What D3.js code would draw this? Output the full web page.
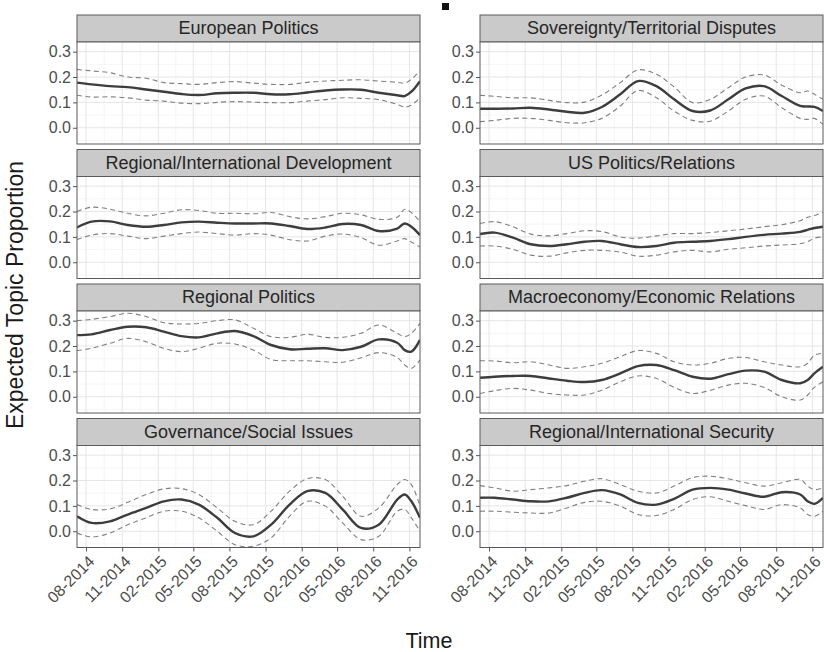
<!DOCTYPE html>
<html>
<head>
<meta charset="utf-8">
<script src="https://cdn.jsdelivr.net/npm/d3@7"></script>
<style>
  body { margin: 0; background: #fff; }
  svg { font-family: "Liberation Sans", Arial, sans-serif; }
</style>
</head>
<body>
<svg id="chart"></svg>
<script>
// sample dates shared by every topic
const dates = ["2014-07-09", "2014-08-15", "2014-10-01", "2014-11-15", "2015-01-01", "2015-02-15",
  "2015-04-01", "2015-05-15", "2015-07-01", "2015-08-15", "2015-10-01", "2015-11-15",
  "2016-01-01", "2016-02-15", "2016-04-01", "2016-05-15", "2016-07-01", "2016-08-15",
  "2016-10-01", "2016-10-20", "2016-11-06", "2016-11-28"];

const topics = ["European Politics", "Sovereignty/Territorial Disputes",
  "Regional/International Development", "US Politics/Relations",
  "Regional Politics", "Macroeconomy/Economic Relations",
  "Governance/Social Issues", "Regional/International Security"];

const europeanMean  = [0.178, 0.171, 0.164, 0.16, 0.151, 0.142, 0.133, 0.129, 0.136, 0.138, 0.138, 0.132, 0.132, 0.139, 0.147, 0.151, 0.15, 0.138, 0.128, 0.125, 0.142, 0.184];
const europeanUpper = [0.23, 0.224, 0.217, 0.2, 0.195, 0.178, 0.174, 0.171, 0.178, 0.182, 0.176, 0.171, 0.171, 0.179, 0.184, 0.187, 0.189, 0.184, 0.179, 0.176, 0.191, 0.224];
const europeanLower = [0.128, 0.121, 0.122, 0.118, 0.109, 0.105, 0.097, 0.095, 0.1, 0.103, 0.101, 0.099, 0.099, 0.105, 0.111, 0.118, 0.116, 0.111, 0.092, 0.082, 0.089, 0.118];

const sovereigntyMean  = [0.075, 0.075, 0.076, 0.079, 0.072, 0.063, 0.059, 0.082, 0.132, 0.184, 0.164, 0.112, 0.066, 0.068, 0.112, 0.155, 0.164, 0.125, 0.086, 0.084, 0.082, 0.066];
const sovereigntyUpper = [0.128, 0.124, 0.118, 0.118, 0.108, 0.099, 0.101, 0.129, 0.178, 0.228, 0.211, 0.161, 0.099, 0.112, 0.158, 0.2, 0.208, 0.168, 0.138, 0.145, 0.132, 0.112];
const sovereigntyLower = [0.024, 0.029, 0.037, 0.037, 0.029, 0.02, 0.02, 0.037, 0.086, 0.147, 0.118, 0.066, 0.029, 0.026, 0.066, 0.112, 0.125, 0.079, 0.037, 0.033, 0.037, 0.013];

const developmentMean  = [0.137, 0.16, 0.161, 0.147, 0.14, 0.147, 0.157, 0.16, 0.156, 0.153, 0.153, 0.153, 0.143, 0.131, 0.137, 0.151, 0.147, 0.123, 0.133, 0.153, 0.14, 0.107];
const developmentUpper = [0.2, 0.217, 0.209, 0.193, 0.183, 0.193, 0.207, 0.204, 0.193, 0.193, 0.191, 0.196, 0.18, 0.171, 0.18, 0.193, 0.187, 0.169, 0.177, 0.209, 0.196, 0.16];
const developmentLower = [0.089, 0.107, 0.113, 0.103, 0.093, 0.103, 0.113, 0.119, 0.113, 0.107, 0.113, 0.107, 0.089, 0.084, 0.103, 0.111, 0.097, 0.067, 0.084, 0.093, 0.08, 0.06];

const usMean  = [0.111, 0.117, 0.097, 0.071, 0.064, 0.071, 0.081, 0.084, 0.071, 0.06, 0.064, 0.077, 0.081, 0.084, 0.091, 0.1, 0.108, 0.113, 0.12, 0.128, 0.135, 0.14];
const usUpper = [0.153, 0.16, 0.14, 0.111, 0.104, 0.113, 0.124, 0.121, 0.1, 0.095, 0.104, 0.113, 0.113, 0.117, 0.124, 0.131, 0.14, 0.148, 0.164, 0.177, 0.184, 0.197];
const usLower = [0.064, 0.064, 0.051, 0.028, 0.024, 0.037, 0.047, 0.047, 0.04, 0.024, 0.028, 0.041, 0.047, 0.041, 0.051, 0.057, 0.064, 0.068, 0.073, 0.081, 0.095, 0.1];

const regionalMean  = [0.243, 0.246, 0.263, 0.276, 0.274, 0.257, 0.239, 0.234, 0.25, 0.259, 0.239, 0.204, 0.187, 0.189, 0.191, 0.184, 0.197, 0.226, 0.213, 0.184, 0.178, 0.224];
const regionalUpper = [0.3, 0.305, 0.316, 0.329, 0.316, 0.292, 0.287, 0.289, 0.3, 0.303, 0.27, 0.237, 0.234, 0.246, 0.234, 0.234, 0.25, 0.283, 0.25, 0.237, 0.25, 0.289];
const regionalLower = [0.182, 0.191, 0.211, 0.23, 0.217, 0.191, 0.178, 0.191, 0.211, 0.208, 0.184, 0.147, 0.142, 0.142, 0.138, 0.136, 0.154, 0.174, 0.155, 0.125, 0.112, 0.145];

const macroMean  = [0.075, 0.079, 0.082, 0.082, 0.072, 0.063, 0.058, 0.066, 0.092, 0.121, 0.125, 0.105, 0.079, 0.071, 0.089, 0.103, 0.099, 0.066, 0.053, 0.066, 0.092, 0.118];
const macroUpper = [0.142, 0.141, 0.134, 0.138, 0.125, 0.112, 0.118, 0.132, 0.158, 0.182, 0.171, 0.138, 0.125, 0.132, 0.151, 0.155, 0.138, 0.125, 0.118, 0.132, 0.164, 0.171];
const macroLower = [0.013, 0.024, 0.033, 0.026, 0.013, 0.007, 0.007, 0.026, 0.059, 0.082, 0.072, 0.037, 0.013, 0.026, 0.046, 0.053, 0.037, 0.0, -0.013, 0.007, 0.037, 0.059];

const governanceMean  = [0.059, 0.033, 0.039, 0.066, 0.092, 0.118, 0.125, 0.105, 0.053, -0.007, -0.02, 0.026, 0.105, 0.158, 0.151, 0.086, 0.013, 0.026, 0.125, 0.145, 0.118, 0.053];
const governanceUpper = [0.105, 0.086, 0.088, 0.114, 0.145, 0.167, 0.168, 0.145, 0.092, 0.039, 0.026, 0.079, 0.158, 0.207, 0.204, 0.138, 0.059, 0.092, 0.184, 0.204, 0.184, 0.099];
const governanceLower = [-0.007, -0.022, -0.007, 0.026, 0.053, 0.079, 0.079, 0.053, 0.0, -0.053, -0.059, -0.026, 0.059, 0.118, 0.099, 0.033, -0.033, -0.02, 0.079, 0.086, 0.053, 0.0];

const securityMean  = [0.132, 0.132, 0.125, 0.118, 0.118, 0.132, 0.151, 0.162, 0.145, 0.112, 0.105, 0.128, 0.164, 0.171, 0.164, 0.149, 0.136, 0.154, 0.145, 0.118, 0.108, 0.132];
const securityUpper = [0.18, 0.171, 0.158, 0.164, 0.171, 0.18, 0.197, 0.207, 0.184, 0.158, 0.151, 0.178, 0.211, 0.217, 0.207, 0.191, 0.178, 0.191, 0.204, 0.178, 0.164, 0.171];
const securityLower = [0.079, 0.079, 0.075, 0.072, 0.072, 0.092, 0.114, 0.118, 0.099, 0.066, 0.062, 0.086, 0.125, 0.136, 0.118, 0.101, 0.086, 0.105, 0.092, 0.066, 0.059, 0.079];

const yTicks = [0, 0.1, 0.2, 0.3];

const series = [
  [europeanMean, europeanUpper, europeanLower],
  [sovereigntyMean, sovereigntyUpper, sovereigntyLower],
  [developmentMean, developmentUpper, developmentLower],
  [usMean, usUpper, usLower],
  [regionalMean, regionalUpper, regionalLower],
  [macroMean, macroUpper, macroLower],
  [governanceMean, governanceUpper, governanceLower],
  [securityMean, securityUpper, securityLower]
];

const width = 824, height = 652;
const colX = [77, 480];
const panelW = 343, stripH = 27, panelH = 102, rowPitch = 134.5, top0 = 15;
const font = '"Liberation Sans", Arial, sans-serif';

const svg = d3.select('#chart').attr('width', width).attr('height', height);

const parse = d3.timeParse('%Y-%m-%d');
const times = dates.map(parse);

const x = d3.scaleTime()
  .domain([parse('2014-07-09'), parse('2016-11-28')])
  .range([0, panelW]);
const y = d3.scaleLinear().domain([-0.064, 0.338]).range([panelH, 0]);

const xTicks = d3.timeMonths(new Date(2014, 7, 1), new Date(2016, 11, 2), 3);
const xMinor = d3.pairs(xTicks).map(([a, b]) => new Date((+a + +b) / 2));
const yMinor = [-0.05, 0.05, 0.15, 0.25];

const line = d3.line()
  .x((d, i) => x(times[i]))
  .y(d => y(d))
  .curve(d3.curveCatmullRom.alpha(0.5));

topics.forEach((title, k) => {
  const col = k % 2, row = Math.floor(k / 2);
  const g = svg.append('g')
    .attr('transform', `translate(${colX[col]},${top0 + row * rowPitch})`);

  // strip
  g.append('rect')
    .attr('width', panelW).attr('height', stripH)
    .attr('fill', '#cacaca').attr('stroke', '#5a5a5a').attr('stroke-width', 1);
  g.append('text')
    .attr('x', panelW / 2).attr('y', stripH / 2 + 5.8)
    .attr('text-anchor', 'middle')
    .attr('font-size', 18).attr('fill', '#262626')
    .text(title);

  const p = g.append('g').attr('transform', `translate(0,${stripH})`);
  p.append('rect').attr('width', panelW).attr('height', panelH).attr('fill', '#fff');

  // grid
  p.selectAll('.vminor').data(xMinor).join('line')
    .attr('x1', d => x(d)).attr('x2', d => x(d)).attr('y1', 0).attr('y2', panelH)
    .attr('stroke', '#f2f2f2').attr('stroke-width', 0.7);
  p.selectAll('.hminor').data(yMinor).join('line')
    .attr('y1', d => y(d)).attr('y2', d => y(d)).attr('x1', 0).attr('x2', panelW)
    .attr('stroke', '#f2f2f2').attr('stroke-width', 0.7);
  p.selectAll('.vmajor').data(xTicks).join('line')
    .attr('x1', d => x(d)).attr('x2', d => x(d)).attr('y1', 0).attr('y2', panelH)
    .attr('stroke', '#e6e6e6').attr('stroke-width', 1);
  p.selectAll('.hmajor').data(yTicks).join('line')
    .attr('y1', d => y(d)).attr('y2', d => y(d)).attr('x1', 0).attr('x2', panelW)
    .attr('stroke', '#e6e6e6').attr('stroke-width', 1);

  // lines, clipped to panel
  const clipId = 'clip' + k;
  p.append('clipPath').attr('id', clipId)
    .append('rect').attr('width', panelW).attr('height', panelH);
  const lines = p.append('g').attr('clip-path', `url(#${clipId})`);
  const [mean, upper, lower] = series[k];
  [upper, lower].forEach(s => {
    lines.append('path').attr('d', line(s))
      .attr('fill', 'none').attr('stroke', '#808080')
      .attr('stroke-width', 1.1).attr('stroke-dasharray', '5,3.5');
  });
  lines.append('path').attr('d', line(mean))
    .attr('fill', 'none').attr('stroke', '#3d3d3d').attr('stroke-width', 2.4);

  p.append('rect').attr('width', panelW).attr('height', panelH)
    .attr('fill', 'none').attr('stroke', '#5a5a5a').attr('stroke-width', 1);

  // y axis
  const ya = p.append('g')
    .call(d3.axisLeft(y).tickValues(yTicks).tickFormat(d3.format('.1f')).tickSize(4).tickPadding(2));
  ya.select('.domain').remove();
  ya.selectAll('line').attr('stroke', '#555');
  ya.selectAll('text').attr('font-size', 16).attr('fill', '#4d4d4d')
    .attr('font-family', font);

  // x axis on bottom row
  if (row === 3) {
    const xa = p.append('g').attr('transform', `translate(0,${panelH})`)
      .call(d3.axisBottom(x).tickValues(xTicks).tickFormat(d3.timeFormat('%m-%Y')).tickSize(4));
    xa.select('.domain').remove();
    xa.selectAll('line').attr('stroke', '#555');
    xa.selectAll('text')
      .attr('font-size', 16).attr('fill', '#4d4d4d')
      .attr('font-family', font)
      .attr('text-anchor', 'end')
      .attr('dy', null).attr('y', null)
      .attr('transform', 'translate(9,15) rotate(-45)');
  }
});

// axis titles
svg.append('text')
  .attr('x', 429).attr('y', 648)
  .attr('text-anchor', 'middle').attr('font-size', 21.5).attr('fill', '#1a1a1a')
  .text('Time');
svg.append('text')
  .attr('transform', 'translate(23,295) rotate(-90)')
  .attr('text-anchor', 'middle').attr('font-size', 23).attr('fill', '#1a1a1a')
  .text('Expected Topic Proportion');

// small dark mark at the top of the scan
svg.append('rect').attr('x', 442).attr('y', 3).attr('width', 7).attr('height', 7).attr('fill', '#111');
</script>
</body>
</html>
